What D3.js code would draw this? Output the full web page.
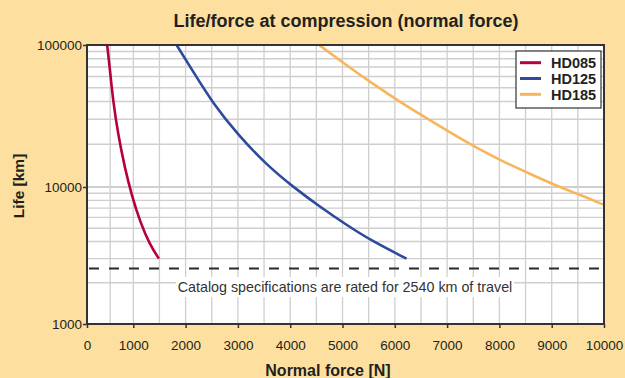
<!DOCTYPE html>
<html>
<head>
<meta charset="utf-8">
<script src="https://d3js.org/d3.v7.min.js"></script>
<style>
  body { margin: 0; background: #fddf9f; }
  svg { display: block; font-family: "Liberation Sans", Arial, Helvetica, sans-serif; }
</style>
</head>
<body>
<svg id="chart" width="625" height="378"></svg>
<script>
// data: [force N, life km]
const hd085 = [[435, 100000], [493, 68500], [565, 39900], [674, 23200], [820, 13500],
               [965, 8740], [1128, 5580], [1319, 3770], [1490, 3000]];
const hd125 = [[1828, 100000], [2146, 64900], [2529, 38500], [3007, 23200], [3549, 14300],
               [4058, 10000], [4568, 7180], [5078, 5280], [5586, 3990], [6225, 3000]];
const hd185 = [[4554, 100000], [5043, 73500], [5554, 54000], [6094, 39900], [6604, 30500],
               [7082, 23900], [7560, 18900], [8070, 15100], [8580, 12400], [9090, 10200],
               [9599, 8600], [10000, 7400]];
const seriesNames = ["HD085", "HD125", "HD185"];
const seriesColors = ["#b5003b", "#2d4a9c", "#f9b55c"];
const catalogLife = 2540;
const xTicks = [0, 1000, 2000, 3000, 4000, 5000, 6000, 7000, 8000, 9000, 10000];
const yTicks = [1000, 10000, 100000];

const svg = d3.select("#chart");
const pLeft = 87, pRight = 604, pTop = 45, pBottom = 324;

// the original axis squeezes the first 1000 N a little, so piecewise scales
let x = d3.scaleLinear().domain([0, 1000, 10000]).range([pLeft, 133.3, pRight]);
let y = d3.scaleLog().domain([1000, 10000, 100000]).range([pBottom, 187, pTop]);

svg.append("rect").attr("width", 625).attr("height", 378).attr("fill", "#fddf9f");
svg.append("rect").attr("x", pLeft).attr("y", pTop)
   .attr("width", pRight - pLeft).attr("height", pBottom - pTop).attr("fill", "#fff");

// grid
let xGrid = d3.range(500, 10000, 500);
svg.append("g").selectAll("line").data(xGrid).enter().append("line")
   .attr("x1", d => x(d)).attr("x2", d => x(d))
   .attr("y1", pTop).attr("y2", pBottom)
   .attr("stroke", "#cfcfcf").attr("stroke-width", 1.3);

let yGrid = [];
[1000, 10000].forEach(dec => { for (let k = 2; k <= 9; k++) yGrid.push(dec * k); });
yGrid.push(10000);
svg.append("g").selectAll("line").data(yGrid).enter().append("line")
   .attr("x1", pLeft).attr("x2", pRight)
   .attr("y1", d => y(d)).attr("y2", d => y(d))
   .attr("stroke", "#cfcfcf").attr("stroke-width", d => d == 10000 ? 2 : 1.3);

// catalog line + label
svg.append("line")
   .attr("x1", pLeft + 2).attr("x2", pRight - 2)
   .attr("y1", y(catalogLife)).attr("y2", y(catalogLife))
   .attr("stroke", "#2b2b2b").attr("stroke-width", 2).attr("stroke-dasharray", "10,10");
svg.append("rect").attr("x", 176).attr("y", y(catalogLife) + 8.5)
   .attr("width", 338).attr("height", 20).attr("fill", "#fff");
svg.append("text").attr("x", 345).attr("y", y(catalogLife) + 23)
   .attr("text-anchor", "middle").attr("font-size", "14.3px").attr("fill", "#333")
   .text("Catalog specifications are rated for " + catalogLife + " km of travel");

// curves
svg.append("clipPath").attr("id", "plot").append("rect")
   .attr("x", pLeft).attr("y", pTop).attr("width", pRight - pLeft).attr("height", pBottom - pTop);
let line = d3.line().x(d => x(d[0])).y(d => y(d[1])).curve(d3.curveBasis);
[hd085, hd125, hd185].forEach((s, i) => {
  svg.append("path").datum(s)
     .attr("d", line)
     .attr("clip-path", "url(#plot)")
     .attr("fill", "none")
     .attr("stroke", seriesColors[i])
     .attr("stroke-width", 2.6);
});

// frame
svg.append("rect").attr("x", pLeft).attr("y", pTop)
   .attr("width", pRight - pLeft).attr("height", pBottom - pTop)
   .attr("fill", "none").attr("stroke", "#333").attr("stroke-width", 2);

// axes
let xAxis = d3.axisBottom(x).tickValues(xTicks).tickSize(4).tickPadding(12).tickFormat(d3.format("d"));
let gx = svg.append("g").attr("transform", "translate(0," + pBottom + ")").call(xAxis);
let yAxis = d3.axisLeft(y).tickValues(yTicks).tickSize(4).tickPadding(1).tickFormat(d3.format("d"));
let gy = svg.append("g").attr("transform", "translate(" + pLeft + ",0)").call(yAxis);
[gx, gy].forEach(g => {
  g.select(".domain").remove();
  g.selectAll(".tick line").attr("stroke", "#333").attr("stroke-width", 1.5);
  g.selectAll("text").attr("font-size", "13.5px").attr("fill", "#231f20")
   .attr("font-family", "'Liberation Sans', Arial, sans-serif");
});

// titles
svg.append("text").attr("x", 346).attr("y", 27).attr("text-anchor", "middle")
   .attr("font-size", "18px").attr("font-weight", "bold").attr("fill", "#231f20")
   .text("Life/force at compression (normal force)");
svg.append("text").attr("x", 328).attr("y", 375.5).attr("text-anchor", "middle")
   .attr("font-size", "16px").attr("font-weight", "bold").attr("fill", "#231f20")
   .text("Normal force [N]");
svg.append("text").attr("transform", "translate(23.5,186) rotate(-90)")
   .attr("text-anchor", "middle")
   .attr("font-size", "15.5px").attr("font-weight", "bold").attr("fill", "#231f20")
   .text("Life [km]");

// legend
let lg = svg.append("g").attr("transform", "translate(516,51)");
lg.append("rect").attr("width", 85).attr("height", 57)
  .attr("fill", "#fff").attr("stroke", "#333").attr("stroke-width", 1.2);
seriesNames.forEach((n, i) => {
  lg.append("line").attr("x1", 4).attr("x2", 25)
    .attr("y1", 11.7 + i * 15.8).attr("y2", 11.7 + i * 15.8)
    .attr("stroke", seriesColors[i]).attr("stroke-width", 3);
  lg.append("text").attr("x", 35).attr("y", 17 + i * 15.8)
    .attr("font-size", "14.5px").attr("font-weight", "bold").attr("fill", "#231f20")
    .text(n);
});
</script>
</body>
</html>
